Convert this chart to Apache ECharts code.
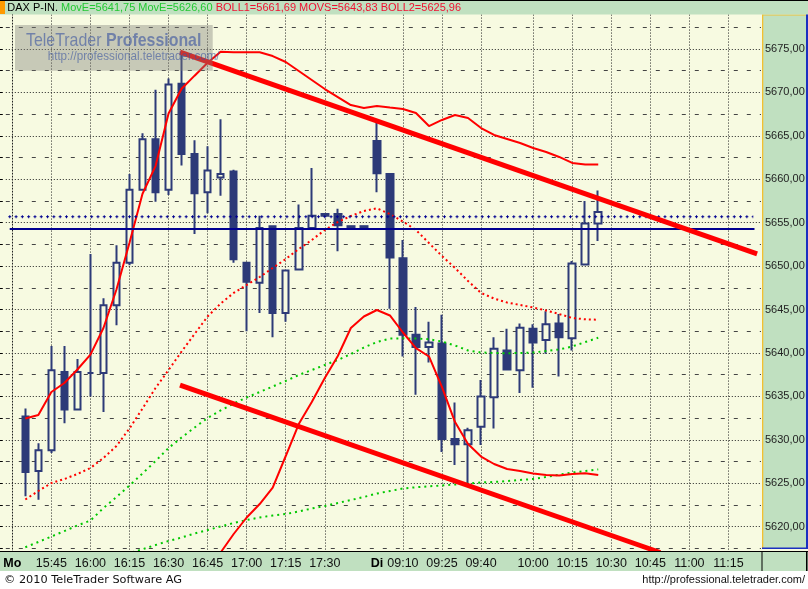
<!DOCTYPE html>
<html><head><meta charset="utf-8">
<script src="https://cdn.jsdelivr.net/npm/echarts@6/dist/echarts.min.js"></script>
<style>html,body{margin:0;padding:0;background:#fff}#c{width:808px;height:589px}</style>
</head><body><div id="c"></div>
<script>
// ---- categories (5-minute slots) ----
const categories = ['15:30','15:35','15:40','15:45','15:50','15:55','16:00','16:05','16:10','16:15','16:20','16:25','16:30','16:35','16:40','16:45','16:50','16:55','17:00','17:05','17:10','17:15','17:20','17:25','17:30','17:35','17:40','17:45',
  '09:00','09:05','09:10','09:15','09:20','09:25','09:30','09:35','09:40','09:45','09:50','09:55','10:00','10:05','10:10','10:15','10:20','10:25','10:30','10:35','10:40','10:45','10:50','10:55','11:00','11:05','11:10','11:15','11:20','11:25'];
const tickLabels = ['15:45','16:00','16:15','16:30','16:45','17:00','17:15','17:30','09:10','09:25','09:40','10:00','10:15','10:30','10:45','11:00','11:15'];
const dayLabels = {'15:30':'Mo','09:00':'Di'};
const priceTicks = [5620,5625,5630,5635,5640,5645,5650,5655,5660,5665,5670,5675];

// ---- candles (first candle at 15:35) ----
const candleStart = 1;
const open  = [5632.7,5626.4,5628.8,5637.8,5633.5,5637.7,5637.7,5645.5,5650.4,5658.8,5664.6,5658.8,5671.0,5662.9,5658.5,5660.2,5660.9,5650.4,5648.1,5654.6,5644.6,5649.6,5654.4,5656.0,5656.0,5654.6,5654.6,
               5664.4,5660.6,5650.9,5642.1,5640.7,5641.1,5630.1,5629.5,5631.5,5634.9,5640.3,5638.0,5642.8,5641.5,5643.4,5641.7,5650.2,5654.9];
const close = [5626.3,5628.8,5638.0,5633.5,5637.8,5637.7,5645.5,5650.4,5658.8,5664.6,5658.5,5670.9,5662.9,5658.4,5661.0,5660.6,5650.8,5648.2,5654.4,5644.6,5649.5,5654.4,5655.8,5655.8,5654.7,5654.4,5654.4,
               5660.7,5651.0,5642.1,5640.7,5641.2,5630.1,5629.5,5631.1,5635.0,5640.5,5638.1,5642.9,5641.2,5643.3,5641.8,5650.3,5654.9,5656.24];
const low   = [5623.5,5623.1,5628.5,5631.9,5633.5,5635.0,5633.2,5643.2,5650.1,5658.8,5657.4,5658.2,5661.6,5653.7,5656.1,5658.1,5650.4,5642.5,5644.6,5641.8,5643.6,5649.6,5654.4,5655.8,5651.7,5654.4,5654.4,
               5658.5,5645.1,5639.6,5635.2,5638.9,5628.6,5627.1,5625.0,5629.4,5631.3,5638.1,5635.4,5636.0,5639.9,5637.3,5640.3,5650.2,5652.9];
const high  = [5633.6,5629.6,5640.8,5640.8,5639.3,5651.4,5646.3,5652.4,5660.6,5665.3,5670.3,5671.6,5674.6,5664.5,5663.8,5666.9,5661.1,5650.4,5655.8,5654.6,5649.6,5657.1,5661.3,5656.0,5656.6,5654.6,5654.6,
               5666.6,5660.6,5653.0,5645.3,5643.6,5644.4,5634.3,5631.4,5636.9,5641.8,5642.8,5643.4,5643.3,5644.8,5644.5,5650.6,5657.5,5658.7];

// ---- indicators ----
const boll1Start = 1;
const boll1 = [5632.46,5632.86,5635.51,5636.55,5638.1,5639.81,5642.88,5647.31,5652.7,5658.34,5661.52,5667.57,5670.43,5671.93,5673.42,5674.69,5674.62,5674.62,5674.62,5674.19,
               5673.5,5672.47,5671.43,5670.39,5669.47,5668.55,5668.2,5668.44,5668.26,5668.09,5667.63,5666.13,5666.83,5667.4,5667.06,5665.9,5665.1,5664.64,5664.18,5663.6,5663.14,5662.57,5661.88,5661.7,5661.69];
const boll2Start = 15;
const boll2 = [5614.44,5617.03,5619.16,5621.06,5622.61,5624.51,5628.14,5631.82,5634.36,5637.12,5639.65,5642.88,5644.2,5644.95,5644.32,5642.36,5640.57,5639.6,5636.08,5632.05,
               5629.52,5628.08,5627.22,5626.64,5626.41,5626.13,5625.95,5625.89,5626.07,5626.15,5625.96];
const movsStart = 1;
const movs = [5623.13,5624.11,5625.03,5625.49,5626.07,5626.76,5627.91,5629.29,5631.31,5633.61,5635.97,5638.04,5640.17,5642.19,5644.2,5645.7,5646.91,5647.83,5648.75,5649.79,
              5650.82,5651.97,5653.01,5654.16,5655.08,5655.77,5656.35,5656.66,5656.0,5655.14,5654.16,5652.66,5651.17,5649.79,5648.29,5646.91,5646.27,5645.81,5645.53,5645.24,5644.89,5644.49,5644.03,5643.88,5643.83];
const movE1Start = 1;
const movE1 = [5617.63,5618.24,5618.87,5619.5,5620.14,5620.71,5622.15,5623.42,5624.74,5626.13,5627.56,5629.06,5630.27,5631.42,5632.52,5633.38,5634.18,5634.88,5635.51,5636.14,
               5636.78,5637.47,5638.04,5638.62,5639.19,5639.88,5640.63,5641.26,5641.67,5641.69,5641.67,5641.58,5641.32,5640.86,5640.29,5640.06,5640.0,5639.97,5640.0,5640.06,5640.23,5640.4,5640.75,5641.26,5641.75];
const movE2Start = 7;
const movE2 = [5616.05,5616.5,5616.97,5617.4,5617.89,5618.35,5618.76,5619.22,5619.62,5620.02,5620.43,5620.77,5621.06,5621.29,5621.46,5621.75,5622.1,5622.38,5622.73,5623.07,
               5623.42,5623.82,5624.11,5624.4,5624.54,5624.65,5624.74,5624.86,5624.97,5625.09,5625.15,5625.26,5625.38,5625.49,5625.72,5625.99,5626.24,5626.41,5626.6];

// ---- drawn trend lines [slot index, price] ----
const trendUpper = [[12.88, 5674.65], [57.2, 5651.4]];
const trendLower = [[12.88, 5636.31], [49.76, 5617.03]];
// ---- horizontal levels [price, fromSlot, toSlot] ----
const levelSolid = [5654.27, -0.2, 57.0];
const levelCross = [5655.69, -0.31, 56.9];

const fmt = v => v.toFixed(2).replace('.', ',');
const pad = (arr, start) => categories.map((c, i) => (i >= start && i - start < arr.length) ? arr[i - start] : '-');
const candleData = open.map((o, k) => [k + candleStart, o, close[k], low[k], high[k]]);
const last = a => a[a.length - 1];

const CREAM = '#f7fae1', GREEN_BG = '#c0e0c0', NAVY = '#2d3a78', LNAVY = '#000090';
const RED = '#ff0000', GRN = '#00c800';
const FONT = 'Liberation Sans, Arial, sans-serif';
const WM = 'rgba(60,85,160,0.62)';

const chart = echarts.init(document.getElementById('c'), null, {renderer: 'canvas', width: 808, height: 589});

const headerText = '{k|DAX P-IN.} {g|MovE=' + fmt(last(movE1)) + ' MovE=' + fmt(last(movE2)) + '} {r|BOLL1=' + fmt(last(boll1)) +
  ' MOVS=' + fmt(last(movs)) + ' BOLL2=' + fmt(last(boll2)) + '}';

const lineSeries = (data, style, xi) => ({
  type: 'line', data: data, xAxisIndex: xi || 0, yAxisIndex: 0, symbol: 'none', silent: true, z: 3,
  lineStyle: style, clip: true, animation: false
});

chart.setOption({
  animation: false,
  backgroundColor: CREAM,
  grid: {left: 5.8, right: 47, top: 5.575, bottom: 18.87, containLabel: false, outerBoundsMode: 'none'},
  xAxis: [
    {type: 'category', data: categories, gridIndex: 0, position: 'bottom', boundaryGap: true,
     axisLine: {show: false}, axisTick: {show: false}, axisLabel: {show: false},
     splitLine: {show: true, alignWithLabel: true, interval: (i, v) => tickLabels.includes(v),
                 lineStyle: {type: [1, 2], color: '#222', width: 1}}},
    {type: 'category', data: categories, gridIndex: 0, position: 'bottom', offset: -18.63, boundaryGap: true, z: 20,
     axisLine: {show: false}, axisTick: {show: false}, splitLine: {show: false},
     axisLabel: {show: true, interval: (i, v) => tickLabels.includes(v) || !!dayLabels[v], hideOverlap: false,
                 margin: 5.5, fontSize: 12.5, color: '#111', fontFamily: FONT,
                 formatter: v => dayLabels[v] ? '{b|' + dayLabels[v] + '}' : v,
                 rich: {b: {fontWeight: 'bold', fontSize: 12.5, color: '#000', fontFamily: FONT}}}},
    {type: 'value', min: -0.5, max: 57.5, gridIndex: 0, show: false}
  ],
  yAxis: [
    {type: 'value', position: 'right', min: 5615, max: 5680, interval: 5, scale: true,
     axisLine: {show: true, lineStyle: {type: [1, 2], color: '#222'}},
     axisTick: {show: false},
     axisLabel: {show: true, showMinLabel: false, showMaxLabel: false, margin: 4, fontSize: 11, color: '#222', fontFamily: FONT,
                 formatter: v => priceTicks.includes(Math.round(v)) ? fmt(v) : ''},
     splitLine: {show: true, lineStyle: {type: [1, 2], color: '#222', width: 1}},
     minorTick: {show: false, splitNumber: 2},
     minorSplitLine: {show: true, lineStyle: {type: [4, 9], color: '#444', width: 1}}},
    {type: 'value', position: 'left', offset: 3, min: 5615, max: 5680, interval: 2.5,
     axisLine: {show: false}, axisLabel: {show: false}, splitLine: {show: false},
     axisTick: {show: true, length: 3, lineStyle: {color: '#000', width: 1}}}
  ],
  series: [
    {type: 'candlestick', data: candleData, encode: {x: 0, y: [1, 2, 3, 4]}, xAxisIndex: 0, yAxisIndex: 0,
     barWidth: 7, z: 2, silent: true,
     itemStyle: {color: CREAM, color0: NAVY, borderColor: NAVY, borderColor0: NAVY, borderColorDoji: NAVY, borderWidth: 2},
     markLine: {symbol: ['none', 'none'], silent: true, animation: false,
                data: [{yAxis: last(close)}], lineStyle: {opacity: 0},
                label: {show: true, position: 'end', distance: 3, formatter: () => fmt(last(close)),
                        backgroundColor: '#000', color: '#fff', padding: [1, 0, 0, 1], fontSize: 11, fontFamily: FONT}}},
    lineSeries(pad(movE2, movE2Start), {color: GRN, width: 2, type: [2, 4]}),
    lineSeries(pad(movE1, movE1Start), {color: GRN, width: 2, type: [2, 4]}),
    lineSeries(pad(movs, movsStart), {color: RED, width: 2, type: [2, 3]}),
    lineSeries(pad(boll2, boll2Start), {color: RED, width: 2, type: 'solid'}),
    lineSeries(pad(boll1, boll1Start), {color: RED, width: 2, type: 'solid'}),
    lineSeries([[levelSolid[1], levelSolid[0]], [levelSolid[2], levelSolid[0]]], {color: LNAVY, width: 2}, 2),
    lineSeries([[levelCross[1], levelCross[0]], [levelCross[2], levelCross[0]]], {color: LNAVY, width: 1, type: [3, 3.3], dashOffset: 0, cap: 'butt'}, 2),
    lineSeries([[levelCross[1], levelCross[0]], [levelCross[2], levelCross[0]]], {color: LNAVY, width: 3, type: [1, 5.3], dashOffset: -1, cap: 'butt'}, 2),
    lineSeries(trendUpper, {color: RED, width: 5, cap: 'butt'}, 2),
    lineSeries(trendLower, {color: RED, width: 5, cap: 'butt'}, 2)
  ],
  graphic: {elements: [
    // right price panel
    {type: 'rect', z: -1, shape: {x: 762, y: 14.5, width: 44, height: 534}, style: {fill: GREEN_BG}},
    {type: 'rect', z: 1, shape: {x: 762, y: 14.5, width: 1.3, height: 534}, style: {fill: '#f2c030'}},
    {type: 'rect', z: 1, shape: {x: 762, y: 14.5, width: 44, height: 1}, style: {fill: '#f2c030'}},
    {type: 'rect', z: 1, shape: {x: 806, y: 14, width: 2, height: 535}, style: {fill: '#1a2fc0'}},
    {type: 'rect', z: 1, shape: {x: 762, y: 547.5, width: 46, height: 1.5}, style: {fill: '#1a2fc0'}},
    // header band
    {type: 'rect', z: 10, shape: {x: 0, y: 0, width: 808, height: 14.5}, style: {fill: GREEN_BG}},
    {type: 'rect', z: 11, shape: {x: 0, y: 0, width: 808, height: 1}, style: {fill: '#000'}},
    {type: 'rect', z: 11, shape: {x: 0, y: 1, width: 5, height: 13}, style: {fill: '#ff9a00'}},
    {type: 'text', z: 12, x: 7.3, y: 8, scaleX: 0.973, style: {text: headerText, font: '11.3px ' + FONT, verticalAlign: 'middle', fill: '#000',
      rich: {k: {fill: '#000', fontSize: 11.3, fontFamily: FONT}, g: {fill: '#22c832', fontSize: 11.3, fontFamily: FONT}, r: {fill: '#f01030', fontSize: 11.3, fontFamily: FONT}}}},
    // bottom time band
    {type: 'rect', z: 10, shape: {x: 0, y: 551, width: 808, height: 20}, style: {fill: GREEN_BG}},
    {type: 'rect', z: 11, shape: {x: 0, y: 551, width: 808, height: 1}, style: {fill: '#000'}},
    {type: 'rect', z: 11, shape: {x: 761.5, y: 551, width: 1, height: 20}, style: {fill: '#000'}},
    {type: 'rect', z: 11, shape: {x: 806, y: 551, width: 1.5, height: 20}, style: {fill: '#000'}},
    // footer
    {type: 'rect', z: 10, shape: {x: 0, y: 571, width: 808, height: 18}, style: {fill: '#ffffff'}},
    {type: 'text', z: 12, x: 4, y: 580, style: {text: '\u00a9 2010 TeleTrader Software AG', font: '11.3px DejaVu Sans, sans-serif', verticalAlign: 'middle', fill: '#111'}},
    {type: 'text', z: 12, x: 805, y: 580, style: {text: 'http://professional.teletrader.com/', font: '11px ' + FONT, align: 'right', verticalAlign: 'middle', fill: '#111'}},
    // watermark
    {type: 'rect', z: 15, shape: {x: 15, y: 25, width: 197.7, height: 45.7}, style: {fill: 'rgba(128,128,120,0.4)'}},
    {type: 'text', z: 16, x: 26, y: 41, scaleX: 0.86, style: {text: '{a|TeleTrader }{b|Professional}', verticalAlign: 'middle', font: '18.5px ' + FONT,
      rich: {a: {fill: WM, fontSize: 18.5, fontFamily: FONT}, b: {fill: WM, fontSize: 18.5, fontWeight: 'bold', fontFamily: FONT}}}},
    {type: 'text', z: 16, x: 47.7, y: 57, scaleX: 0.93, style: {text: 'http://professional.teletrader.com/', verticalAlign: 'middle', font: '12.5px ' + FONT, fill: WM}}
  ]}
});
</script></body></html>
